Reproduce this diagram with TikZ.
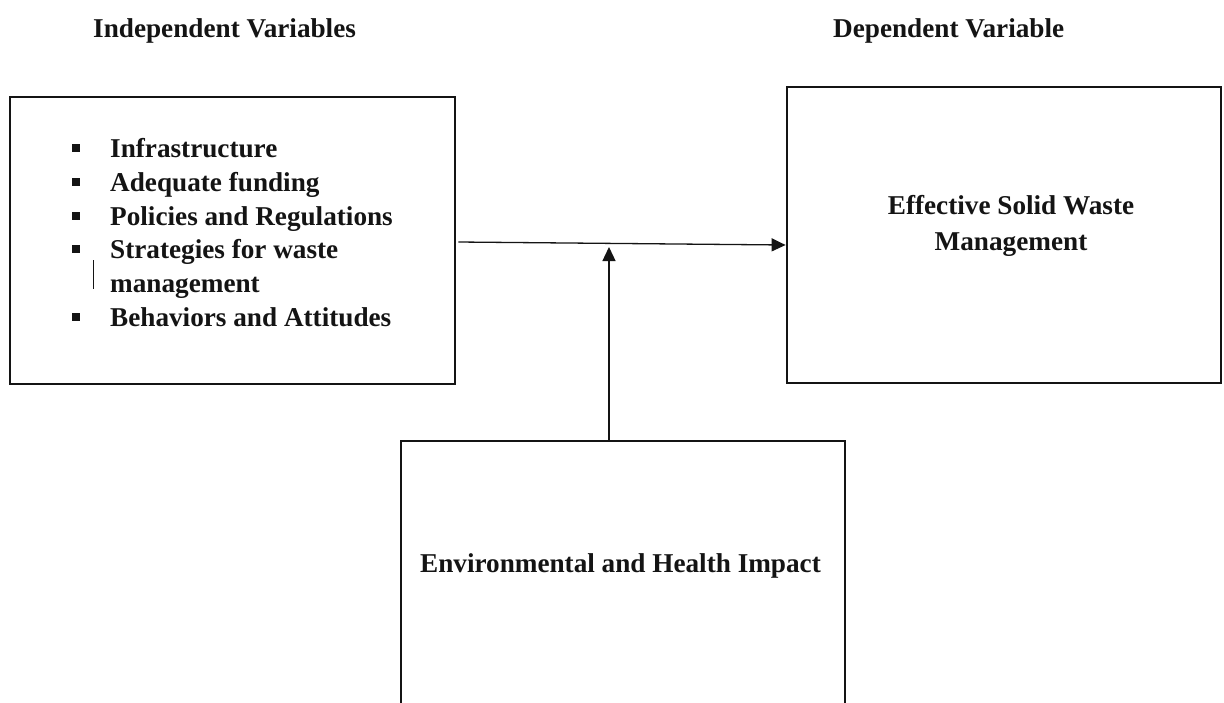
\documentclass[tikz,border=0pt]{standalone}
\usepackage{fontspec}
\setmainfont{Liberation Serif}
\usetikzlibrary{arrows.meta}
\definecolor{ink}{HTML}{141414}
\begin{document}
\begin{tikzpicture}[x=1pt,y=-1pt,
  every node/.style={font=\fontsize{27.2}{34}\selectfont\bfseries, text=ink, inner sep=0pt},
  frame/.style={draw=ink, line width=2.8pt, inner sep=0pt},
  link/.style={draw=ink, line width=1.3pt, -{Triangle[length=14pt,width=13pt]}},
  item/.style={anchor=base west},
  label/.style={anchor=base},
  dot/.style={fill=ink, minimum size=8pt, inner sep=0pt},
]
\fill[white] (0,0) rectangle (1224,702);
\useasboundingbox (0,0) rectangle (1224,702);
\clip (0,0) rectangle (1224,702);

% headings
\node[item] (ivhead) at (93,37) {Independent Variables};
\node[item] (dvhead) at (833,37) {Dependent Variable};

% boxes
\node[frame, minimum width=445pt, minimum height=287pt] (ivbox) at (232.5,240.5) {};
\node[frame, minimum width=434pt, minimum height=296pt] (dvbox) at (1004,235) {};
\node[frame, minimum width=444pt, minimum height=330pt] (imbox) at (623,606) {};

% independent variables list
\node[dot] (b1) at (76,147.5) {};
\node[item] (i1) at (110,157) {Infrastructure};
\node[dot] (b2) at (76,181.5) {};
\node[item] (i2) at (110,191) {Adequate funding};
\node[dot] (b3) at (76,215.5) {};
\node[item] (i3) at (110,225) {Policies and Regulations};
\node[dot] (b4) at (76,248.5) {};
\node[item] (i4) at (110,258) {Strategies for waste};
\node[item] (i4b) at (110,292) {management};
\node[dot] (b5) at (76,316.5) {};
\node[item] (i5) at (110,326) {Behaviors and Attitudes};
\draw[ink, line width=1pt] (93,260) -- (93,289);

% box texts
\node[label] (dv1) at (1011,214) {Effective Solid Waste};
\node[label] (dv2) at (1011,250) {Management};
\node[label] (im1) at (620.5,572) {Environmental and Health Impact};

% connectors
\coordinate (join) at (609,247);
\draw[link] ([xshift=2pt,yshift=-1.5pt]ivbox.east) -- ([yshift=-10pt]dvbox.west);
\draw[link] ([xshift=-14pt]imbox.north) -- (join);
\end{tikzpicture}
\end{document}
